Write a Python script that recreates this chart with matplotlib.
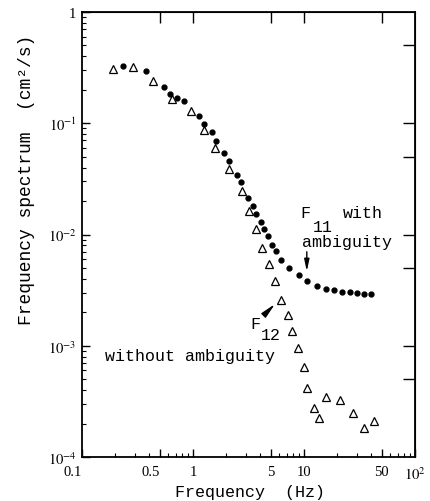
import matplotlib
matplotlib.use("Agg")
import matplotlib.pyplot as plt
from matplotlib.ticker import LogLocator, NullFormatter, NullLocator

plt.rcParams["font.family"] = ["Liberation Mono", "DejaVu Sans"]
plt.rcParams["mathtext.fontset"] = "stix"

# F12 sin ambiguedad (triangulos)
frecTriangulos = [0.189, 0.291, 0.437, 0.647, 0.964, 1.25, 1.57, 2.09, 2.75, 3.21,
                  3.70, 4.20, 4.79, 5.48, 6.17, 7.13, 7.85, 8.83, 10.1, 10.7,
                  12.4, 13.7, 15.8, 21.1, 27.8, 34.9, 42.7]
espTriangulos = [0.310, 0.318, 0.240, 0.165, 0.129, 0.0864, 0.0603, 0.0388, 0.0245, 0.0162,
                 0.0112, 0.00753, 0.00543, 0.00384, 0.00258, 0.00190, 0.00135, 0.000948, 0.000640, 0.000417,
                 0.000274, 0.000224, 0.000344, 0.000325, 0.000249, 0.000182, 0.000212]

# F11 con ambiguedad (puntos)
frecPuntos = [0.233, 0.378, 0.545, 0.621, 0.723, 0.825, 1.14, 1.26, 1.47, 1.61,
              1.90, 2.12, 2.48, 2.69, 3.15, 3.45, 3.70, 4.10, 4.39, 4.72,
              5.12, 5.62, 6.21, 7.38, 9.02, 10.6, 13.2, 15.7, 18.6, 22.1,
              26.0, 30.2, 34.9, 40.2]
espPuntos = [0.325, 0.293, 0.210, 0.184, 0.169, 0.160, 0.1155, 0.0985, 0.0829, 0.0688,
             0.0540, 0.0461, 0.0343, 0.0294, 0.0213, 0.0182, 0.0153, 0.0129, 0.0111, 0.00963,
             0.00813, 0.00711, 0.00596, 0.00505, 0.00435, 0.00382, 0.00342, 0.00324, 0.00315, 0.00306,
             0.00302, 0.00296, 0.00292, 0.00290]

xTicks = [0.1, 0.5, 1, 5, 10, 50, 100]
xTickLabels = ["0.1", "0.5", "1", "5", "10", "50", "$10^2$"]
yTicks = [1e-4, 1e-3, 1e-2, 1e-1, 1]
yTickLabels = ["$10^{-4}$", "$10^{-3}$", "$10^{-2}$", "$10^{-1}$", "1"]
ticksArriba = [0.5, 1, 5, 10, 50]
ticksDerecha = [0.5, 0.1, 0.05, 0.01, 0.005, 0.001, 0.0005]

fig = plt.figure(figsize=(4.3, 5.02), dpi=100)
ax = fig.add_axes([82 / 430, 44 / 502, 333 / 430, 445 / 502])

ax.plot(frecTriangulos, espTriangulos, linestyle="none", marker="^", markersize=6,
        markerfacecolor="white", markeredgecolor="black", markeredgewidth=0.9)
ax.plot(frecPuntos, espPuntos, linestyle="none", marker="o", markersize=3.5, color="black")

ax.set_xscale("log")
ax.set_yscale("log")
ax.set_xlim(0.1, 100)
ax.set_ylim(1e-4, 1)

ax.set_xticks(xTicks)
ax.set_xticklabels(xTickLabels, fontfamily="Liberation Serif", fontsize=10.5)
for etiqueta in ax.get_xticklabels()[:2]:
    etiqueta.set_horizontalalignment("right")
ax.set_yticks(yTicks)
ax.set_yticklabels(yTickLabels, fontfamily="Liberation Serif", fontsize=10.5)
ax.xaxis.set_minor_locator(LogLocator(base=10, subs=range(2, 10)))
ax.yaxis.set_minor_locator(LogLocator(base=10, subs=range(2, 10)))
ax.xaxis.set_minor_formatter(NullFormatter())
ax.yaxis.set_minor_formatter(NullFormatter())
ax.tick_params(which="major", direction="in", length=6, width=1, top=False, right=False)
ax.tick_params(which="minor", direction="in", length=3, width=0.8, top=False, right=False)
ax.tick_params(axis="x", which="major", pad=6)
ax.tick_params(axis="y", which="major", pad=4)

arriba = ax.secondary_xaxis("top")
arriba.set_xticks(ticksArriba)
arriba.set_xticklabels([])
arriba.xaxis.set_minor_locator(NullLocator())
arriba.tick_params(direction="in", length=8, width=1)

derecha = ax.secondary_yaxis("right")
derecha.set_yticks(ticksDerecha)
derecha.set_yticklabels([])
derecha.yaxis.set_minor_locator(NullLocator())
derecha.tick_params(direction="in", length=9, width=1)

for s in ax.spines.values():
    s.set_linewidth(1.3)

ax.set_xlabel("Frequency  (Hz)", fontsize=12)
ax.xaxis.set_label_coords(0.505, -0.06)
ax.set_ylabel("Frequency spectrum  (cm²/s)", fontsize=13)
ax.yaxis.set_label_coords(-0.14, 0.625)

# anotaciones
ax.text(9.2, 0.0159, "F", va="center", fontsize=12)
ax.text(12.05, 0.0119, "11", va="center", fontsize=12)
ax.text(22.4, 0.0159, "with", va="center", fontsize=12)
ax.text(9.6, 0.00857, "ambiguity", va="center", fontsize=12)
ax.annotate("", xy=(10.6, 0.00441), xytext=(10.6, 0.00741),
            arrowprops=dict(arrowstyle="-|>,head_length=0.7,head_width=0.15", color="black", lw=1))

ax.text(3.26, 0.00157, "F", va="center", fontsize=12)
ax.text(4.07, 0.00125, "12", va="center", fontsize=12)
ax.annotate("", xy=(5.71, 0.00247), xytext=(4.18, 0.00181),
            arrowprops=dict(arrowstyle="-|>,head_length=0.9,head_width=0.18", color="black", lw=1))

ax.text(0.161, 0.000809, "without ambiguity", va="center", fontsize=12)

plt.savefig("out.png", dpi=100)
